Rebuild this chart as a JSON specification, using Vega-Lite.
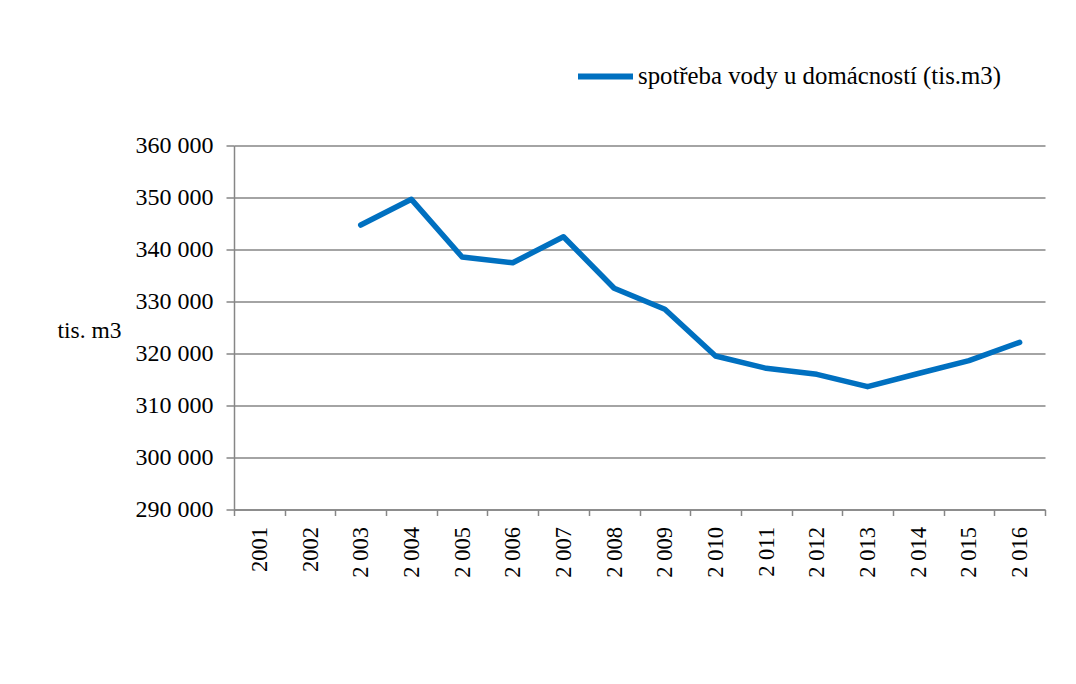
{
  "$schema": "https://vega.github.io/schema/vega-lite/v6.json",
  "width": 811,
  "height": 364,
  "autosize": {"type": "none"},
  "padding": {"left": 234, "top": 145.5, "right": 31, "bottom": 174.5},
  "background": "white",
  "config": {
    "view": {"stroke": null},
    "font": "Liberation Serif",
    "axis": {
      "labelFont": "Liberation Serif",
      "titleFont": "Liberation Serif",
      "labelColor": "black",
      "titleColor": "black",
      "domainColor": "#868686",
      "tickColor": "#868686",
      "gridColor": "#868686",
      "domainWidth": 1.5,
      "tickWidth": 1.5,
      "gridWidth": 1.5
    }
  },
  "data": {
    "values": [
      {"rok": "2001", "spotreba": null},
      {"rok": "2002", "spotreba": null},
      {"rok": "2 003", "spotreba": 344700},
      {"rok": "2 004", "spotreba": 349650},
      {"rok": "2 005", "spotreba": 338560},
      {"rok": "2 006", "spotreba": 337460},
      {"rok": "2 007", "spotreba": 342460},
      {"rok": "2 008", "spotreba": 332540},
      {"rok": "2 009", "spotreba": 328500},
      {"rok": "2 010", "spotreba": 319520},
      {"rok": "2 011", "spotreba": 317150},
      {"rok": "2 012", "spotreba": 316000},
      {"rok": "2 013", "spotreba": 313620},
      {"rok": "2 014", "spotreba": 316150},
      {"rok": "2 015", "spotreba": 318620},
      {"rok": "2 016", "spotreba": 322150}
    ]
  },
  "mark": {"type": "line", "strokeWidth": 5.5, "strokeCap": "round", "strokeJoin": "round"},
  "encoding": {
    "x": {
      "field": "rok",
      "type": "ordinal",
      "bandPosition": 0.5,
      "scale": {
        "type": "band",
        "domain": ["2001", "2002", "2 003", "2 004", "2 005", "2 006", "2 007", "2 008", "2 009", "2 010", "2 011", "2 012", "2 013", "2 014", "2 015", "2 016"],
        "paddingInner": 0,
        "paddingOuter": 0
      },
      "axis": {
        "title": null,
        "labelAngle": -90,
        "labelFontSize": 22.5,
        "labelPadding": 11,
        "tickBand": "extent",
        "tickSize": 6,
        "grid": false
      }
    },
    "y": {
      "field": "spotreba",
      "type": "quantitative",
      "scale": {"domain": [290000, 360000], "nice": false, "zero": false},
      "axis": {
        "values": [290000, 300000, 310000, 320000, 330000, 340000, 350000, 360000],
        "labelExpr": "replace(format(datum.value, ','), ',', ' ')",
        "labelFontSize": 24,
        "labelPadding": 13,
        "tickSize": 8,
        "grid": true,
        "title": "tis. m3",
        "titleAngle": 0,
        "titleX": -177,
        "titleY": 185,
        "titleAlign": "left",
        "titleBaseline": "middle",
        "titleFontSize": 23.5,
        "titleFontWeight": "normal"
      }
    },
    "color": {
      "datum": "spotřeba vody u domácností (tis.m3)",
      "type": "nominal",
      "scale": {"range": ["#0070C0"]},
      "legend": {
        "title": null,
        "orient": "none",
        "legendX": 341,
        "legendY": -99.5,
        "padding": 0,
        "symbolType": "stroke",
        "symbolSize": 3025,
        "symbolStrokeWidth": 6,
        "labelFont": "Liberation Serif",
        "labelFontSize": 24.8,
        "labelColor": "black",
        "labelOffset": 2,
        "labelLimit": 600
      }
    }
  }
}
